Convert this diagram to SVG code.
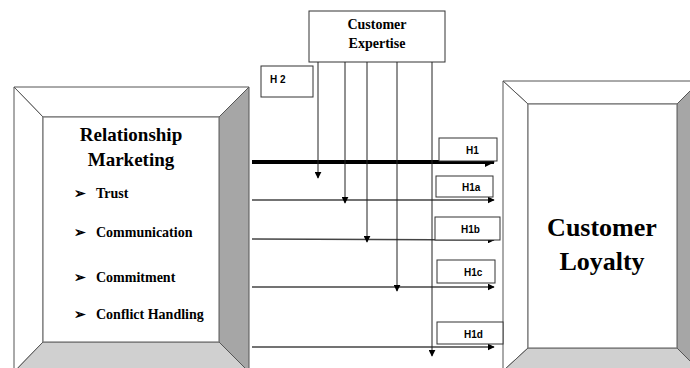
<svg xmlns="http://www.w3.org/2000/svg" width="690" height="368" viewBox="0 0 690 368">
<defs>
<style>
.face{stroke:#555;stroke-width:1}
.white{fill:#fff}
.side{fill:#a6a6a6}
.bottom{fill:#d0d0d0}
.inner{fill:#fff;stroke:#777;stroke-width:1.2}
.ser{font-family:"Liberation Serif","Times New Roman",serif;font-weight:bold;fill:#000}
.sans{font-family:"Liberation Sans",Arial,sans-serif;font-weight:bold;fill:#000;font-size:10px}
.lbl{fill:#fff;stroke:#333;stroke-width:1}
.h{stroke:#444;stroke-width:1.3;fill:none}
.v{stroke:#222;stroke-width:1;fill:none}
</style>
<marker id="ah" viewBox="0 0 10 10" refX="9" refY="5" markerWidth="7" markerHeight="7" markerUnits="userSpaceOnUse" orient="auto"><path d="M0,0 L10,5 L0,10 Z" fill="#000"/></marker>
<marker id="ahs" viewBox="0 0 10 10" refX="9" refY="5" markerWidth="2.5" markerHeight="2.5" orient="auto"><path d="M0,0 L10,5 L0,10 Z" fill="#000"/></marker>
</defs>

<g id="relationship-marketing">
<polygon class="face white" points="14,87 249,87 219,117 43,117"/>
<polygon class="face white" points="14,87 43,117 43,342 14,372"/>
<polygon class="face side" points="249,87 249,372 219,342 219,117"/>
<polygon class="face bottom" points="14,372 43,342 219,342 249,372"/>
<rect class="inner" x="43" y="117" width="176" height="225"/>
<text class="ser" x="131" y="141" font-size="19" text-anchor="middle">Relationship</text>
<text class="ser" x="131" y="166" font-size="19" text-anchor="middle">Marketing</text>
<g class="ser" font-size="14">
<text x="74" y="198">➢</text><text x="96" y="198">Trust</text>
<text x="74" y="237">➢</text><text x="96" y="237">Communication</text>
<text x="74" y="282">➢</text><text x="96" y="282">Commitment</text>
<text x="74" y="319">➢</text><text x="96" y="319">Conflict Handling</text>
</g>
</g>

<g id="customer-loyalty">
<polygon class="face white" points="503,81 700,81 677,104 528,104"/>
<polygon class="face white" points="503,81 528,104 528,348 503,371"/>
<polygon class="face side" points="700,81 700,371 677,348 677,104"/>
<polygon class="face bottom" points="503,371 528,348 677,348 700,371"/>
<rect class="inner" x="528" y="104" width="149" height="244"/>
<text class="ser" x="602" y="236" font-size="26" text-anchor="middle">Customer</text>
<text class="ser" x="602" y="270" font-size="26" text-anchor="middle">Loyalty</text>
</g>

<g id="customer-expertise">
<rect class="lbl" x="309" y="11" width="136" height="51"/>
<text class="ser" x="377" y="29" font-size="14" text-anchor="middle">Customer</text>
<text class="ser" x="377" y="48" font-size="14" text-anchor="middle">Expertise</text>
</g>

<g id="h2"><rect class="lbl" x="261" y="66" width="52" height="31"/><text class="sans" x="270" y="83">H 2</text></g>

<g id="connectors">
<line x1="252" y1="162" x2="494" y2="162" stroke="#000" stroke-width="4" marker-end="url(#ahs)"/>
<line class="h" x1="252" y1="200" x2="494" y2="200" marker-end="url(#ah)"/>
<line class="h" x1="252" y1="239" x2="494" y2="240" marker-end="url(#ah)"/>
<line class="h" x1="252" y1="287" x2="494" y2="287" marker-end="url(#ah)"/>
<line class="h" x1="252" y1="347" x2="494" y2="347" marker-end="url(#ah)"/>
<line class="v" x1="318" y1="62" x2="318" y2="178" stroke="#666" marker-end="url(#ah)"/>
<line class="v" x1="345" y1="62" x2="345" y2="203" marker-end="url(#ah)"/>
<line class="v" x1="367" y1="62" x2="367" y2="242" stroke="#555" marker-end="url(#ah)"/>
<line class="v" x1="397" y1="62" x2="397" y2="291" marker-end="url(#ah)"/>
<line class="v" x1="432" y1="62" x2="432" y2="356" marker-end="url(#ah)"/>
</g>

<g id="h1"><rect class="lbl" x="439" y="138" width="58" height="23"/><text class="sans" x="466" y="154">H1</text></g>
<g id="h1a"><rect class="lbl" x="436" y="176" width="57" height="21"/><text class="sans" x="462" y="191">H1a</text></g>
<g id="h1b"><rect class="lbl" x="435" y="217" width="65" height="23"/><text class="sans" x="461" y="233">H1b</text></g>
<g id="h1c"><rect class="lbl" x="437" y="260" width="58" height="23"/><text class="sans" x="464" y="276">H1c</text></g>
<g id="h1d"><rect class="lbl" x="437" y="322" width="66" height="22"/><text class="sans" x="464" y="338">H1d</text></g>
</svg>
